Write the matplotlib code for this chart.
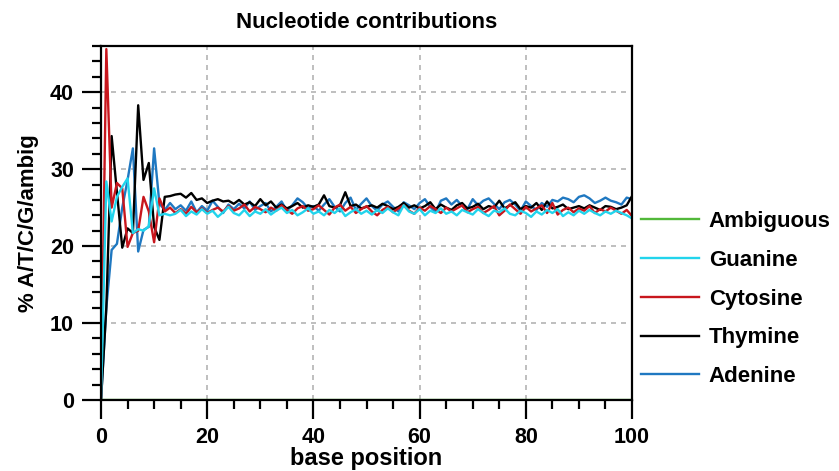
import numpy as np
import matplotlib.pyplot as plt
from matplotlib.ticker import MultipleLocator

plt.rcParams['font.family'] = ['Liberation Sans', 'DejaVu Sans']
plt.rcParams['font.weight'] = 'bold'

positions = list(range(0, 101))

adenine = [0, 12, 19.5, 20.3, 25.0, 28.6, 32.7, 19.3, 22.1, 22.5, 32.7, 25.5, 24.7,
           25.6, 24.8, 25.3, 24.6, 25.8, 24.4, 25.2, 24.6,
           25.9, 25.1, 24.3, 25.4, 24.8, 25.5, 24.9, 25.8, 24.7, 25.2,
           25.6, 24.5, 25.1, 25.8, 24.6, 25.3, 26.2, 25.7, 24.9, 25.2,
           24.6, 25.4, 26.1, 25.1, 24.5, 25.6, 26.3, 24.7, 25.5, 26.2,
           25.2, 24.6, 25.4, 25.8, 25.1, 24.5, 25.7, 25.3, 24.8, 25.6,
           26.1, 25.1, 24.4, 25.9, 26.2, 25.4, 26.0, 25.2, 24.8, 26.1,
           25.3, 25.9, 26.2, 25.5, 24.8, 25.7, 26.0, 25.4, 24.6, 25.8,
           25.2, 24.7, 25.6, 25.1, 26.0, 25.8, 26.3, 26.1, 25.7, 26.4,
           26.6, 26.2, 25.6, 25.9, 26.3, 25.9, 25.7, 25.4, 26.3, 26.1]

thymine = [0, 12, 34.3, 27.0, 19.8, 22.3, 21.7, 38.3, 28.6, 30.8, 22.5, 20.8, 26.4,
           26.5, 26.7, 26.8, 26.3, 26.9, 26.0, 26.2, 25.6,
           25.9, 26.1, 25.8, 25.9, 25.5, 26.0, 25.4, 25.7, 25.2, 26.1,
           25.3, 25.8, 25.0, 25.4, 24.9, 25.2, 25.6, 25.0, 25.3, 25.1,
           25.4, 26.6, 25.2, 25.0, 25.3, 27.0, 25.2, 25.4, 24.9, 25.1,
           25.3, 25.0, 25.5, 25.2, 24.8, 25.1, 25.6, 25.0, 25.3, 24.9,
           25.2, 25.7, 24.8, 25.4, 25.0, 24.7, 25.3, 25.6, 24.9, 25.1,
           25.5, 24.8, 25.2, 25.0, 25.9, 24.9, 25.3, 25.7, 24.8, 25.2,
           25.0, 25.6, 24.7, 25.8, 24.9, 25.1, 25.4, 24.8, 25.0, 25.2,
           24.9, 25.3, 25.0, 24.7, 25.2, 25.1, 24.8, 25.0, 25.3, 26.5]

cytosine = [0, 45.6, 25.0, 28.2, 27.5, 19.9, 21.7, 22.0, 26.4, 24.5, 20.5, 26.2, 24.5,
            25.0, 24.3, 24.8, 24.2, 25.1, 24.4, 24.9, 24.3,
            24.7, 25.0, 24.5, 25.2, 24.6, 24.9, 25.4, 24.5, 25.1, 24.8,
            24.4, 25.0, 24.6, 25.3, 24.7, 24.2, 24.9, 25.2, 24.6, 24.8,
            25.3, 24.7, 24.1, 25.0, 25.4, 24.6, 25.1, 24.3, 24.8, 25.2,
            24.5, 24.0, 24.7, 25.1, 24.4, 24.9, 25.3, 24.6, 24.2, 25.0,
            24.6, 25.2, 24.8, 24.3, 25.0, 24.5, 24.9, 25.3, 24.4, 24.8,
            25.1, 24.3, 24.7, 25.2, 24.0, 24.6, 25.4, 24.8, 24.2, 25.1,
            24.5, 24.9, 25.3, 24.3, 25.6, 24.1, 24.7, 25.0, 24.4, 24.9,
            24.6, 25.2, 24.3, 24.8, 24.5, 25.0, 24.6, 24.2, 24.7, 23.9]

guanine = [0, 28.4, 23.2, 26.4, 27.7, 28.8, 21.7, 22.2, 22.0, 22.6, 27.5, 24.0, 24.2,
           24.0, 24.2, 24.7, 23.9, 24.5, 24.1, 24.8, 24.2,
           24.6, 23.8, 24.4, 25.1, 24.3, 24.0, 24.7, 23.9, 24.5, 24.2,
           24.8, 24.1, 24.6, 25.0, 24.3, 24.7, 24.0, 24.4, 24.9, 24.2,
           24.5, 24.0, 24.7, 24.3, 24.9, 23.9, 24.4, 24.8, 24.2, 24.6,
           24.1, 24.7, 24.3, 24.9, 24.4, 24.0, 25.3, 24.5, 24.2, 24.8,
           24.0, 24.6, 24.3, 24.9, 24.2, 24.5, 24.0, 24.7, 24.4, 24.1,
           24.8, 24.3, 23.9, 24.6, 24.4, 24.9, 24.2, 24.0, 24.6, 24.3,
           23.8, 24.5, 24.1, 24.7, 24.3, 24.8, 23.9, 24.4, 24.0, 24.6,
           24.2, 24.7, 24.3, 24.0, 24.5, 24.2, 24.6, 24.3, 24.0, 23.6]

ambiguous = [0] * 101

fig = plt.figure(figsize=(8.39, 4.71), dpi=100)
ax = fig.add_axes([0.1204, 0.1507, 0.6329, 0.7516])

ax.grid(True, color='#b4b4b4', linestyle=(0, (3, 3)), linewidth=1.2)
ax.set_axisbelow(True)

ax.plot(positions, adenine, color='#1f78c1', lw=1.7, label='Adenine')
ax.plot(positions, thymine, color='black', lw=1.7, label='Thymine')
ax.plot(positions, cytosine, color='#c8161d', lw=1.7, label='Cytosine')
ax.plot(positions, guanine, color='#22d4ec', lw=1.7, label='Guanine')
ax.plot(positions, ambiguous, color='#52b83a', lw=1.7, label='Ambiguous')

ax.set_xlim(0, 100)
ax.set_ylim(0, 46)
ax.xaxis.set_major_locator(MultipleLocator(20))
ax.xaxis.set_minor_locator(MultipleLocator(5))
ax.yaxis.set_major_locator(MultipleLocator(10))
ax.yaxis.set_minor_locator(MultipleLocator(2))
ax.tick_params(which='major', length=13.5, width=1.6, labelsize=15.5, pad=6)
ax.tick_params(which='minor', length=6.5, width=1.6)
for s in ax.spines.values():
    s.set_linewidth(1.6)

ax.set_title('Nucleotide contributions', fontsize=16, fontweight='bold', pad=13)
ax.set_xlabel('base position', fontsize=17, fontweight='bold', labelpad=-1)
ax.set_ylabel('% A/T/C/G/ambig', fontsize=16, fontweight='bold', labelpad=8)

handles, labels = ax.get_legend_handles_labels()
ax.legend(handles[::-1], labels[::-1], loc='center left', bbox_to_anchor=(1.0, 0.285),
          frameon=False, fontsize=16, handlelength=2.6, handletextpad=0.45,
          labelspacing=0.8, borderaxespad=0.0)

fig.savefig('out.png', dpi=100)
